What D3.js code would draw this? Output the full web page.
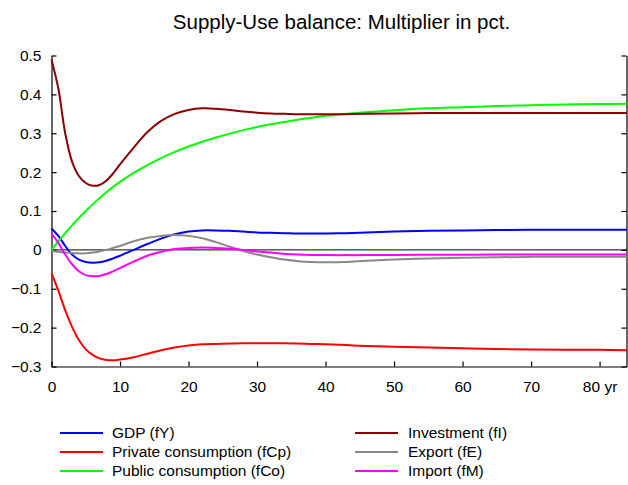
<!DOCTYPE html>
<html>
<head>
<meta charset="utf-8">
<script src="https://cdn.jsdelivr.net/npm/d3@7"></script>
<style>
  html, body { margin: 0; padding: 0; background: #fff; }
  svg { display: block; }
  text { font-family: "Liberation Sans", Arial, Helvetica, sans-serif; fill: #000; }
</style>
</head>
<body>
<svg id="chart" width="628" height="485"></svg>
<script>
const years = [0,1,2,3,4,5,6,7,8,9,10,12,14,16,18,20,22,24,26,28,30,32,34,36,38,40,43,46,50,55,60,65,70,75,80,84];

const gdp = [0.055,0.036,0.010,-0.012,-0.025,-0.031,-0.033,-0.032,-0.028,-0.022,-0.015,0.000,0.015,0.029,0.040,0.047,0.050,0.050,0.049,0.047,0.045,0.044,0.043,0.042,0.042,0.042,0.043,0.045,0.047,0.049,0.050,0.051,0.052,0.052,0.052,0.052];
const privCons = [-0.060,-0.105,-0.155,-0.198,-0.232,-0.256,-0.270,-0.279,-0.283,-0.284,-0.282,-0.276,-0.267,-0.258,-0.251,-0.246,-0.243,-0.242,-0.241,-0.240,-0.240,-0.240,-0.240,-0.241,-0.242,-0.243,-0.245,-0.247,-0.249,-0.251,-0.253,-0.255,-0.256,-0.257,-0.257,-0.258];
const pubCons = [0.000,0.022,0.043,0.063,0.082,0.100,0.117,0.133,0.148,0.162,0.175,0.198,0.218,0.236,0.252,0.266,0.278,0.289,0.299,0.308,0.316,0.323,0.329,0.335,0.340,0.345,0.350,0.354,0.359,0.364,0.367,0.370,0.372,0.374,0.375,0.376];
const investment = [0.490,0.415,0.300,0.227,0.190,0.172,0.165,0.167,0.178,0.197,0.220,0.263,0.303,0.332,0.350,0.360,0.364,0.363,0.360,0.356,0.353,0.351,0.350,0.349,0.349,0.349,0.349,0.350,0.351,0.352,0.352,0.352,0.352,0.352,0.352,0.352];
const exportS = [-0.002,-0.005,-0.007,-0.008,-0.009,-0.009,-0.007,-0.004,0.000,0.005,0.010,0.022,0.031,0.036,0.038,0.036,0.030,0.020,0.008,-0.003,-0.012,-0.019,-0.025,-0.029,-0.031,-0.032,-0.031,-0.028,-0.025,-0.022,-0.020,-0.019,-0.018,-0.018,-0.018,-0.018];
const importS = [0.042,0.018,-0.012,-0.037,-0.055,-0.065,-0.068,-0.067,-0.062,-0.055,-0.047,-0.030,-0.015,-0.005,0.002,0.005,0.006,0.005,0.003,0.000,-0.004,-0.007,-0.010,-0.012,-0.013,-0.0135,-0.0135,-0.0135,-0.013,-0.0125,-0.0125,-0.012,-0.012,-0.012,-0.012,-0.012];

const seriesNames = ["GDP (fY)","Private consumption (fCp)","Public consumption (fCo)","Investment (fI)","Export (fE)","Import (fM)"];
const seriesValues = [gdp, privCons, pubCons, investment, exportS, importS];
const seriesColors = ["#0000ff","#ff0000","#00ff00","#8b0000","#888888","#ff00ff"];

const xTicks = [0,10,20,30,40,50,60,70,80];
const yTicks = [-0.3,-0.2,-0.1,0,0.1,0.2,0.3,0.4,0.5];
const titleText = "Supply-Use balance: Multiplier in pct.";

const svg = d3.select("#chart");
const x = d3.scaleLinear().domain([0, 84]).range([51.5, 627]);
const y = d3.scaleLinear().domain([-0.3, 0.5]).range([366.5, 55.5]);

// title
svg.append("text").attr("x", 341.5).attr("y", 29).attr("text-anchor", "middle")
  .style("font-size", "20.5px").text(titleText);

// zero line
svg.append("line").attr("x1", x(0)).attr("x2", x(84)).attr("y1", y(0)).attr("y2", y(0))
  .attr("stroke", "#000").attr("stroke-width", 1);

// axes
const yAxis = d3.axisLeft(y).tickValues(yTicks).tickSizeInner(-5).tickSizeOuter(0).tickPadding(10)
  .tickFormat(d => d === 0 ? "0" : d3.format(".1f")(d));
const gy = svg.append("g").attr("transform", `translate(${x(0)},0)`).call(yAxis);

const xAxis = d3.axisBottom(x).tickValues(xTicks).tickSizeInner(-5).tickSizeOuter(0).tickPadding(14)
  .tickFormat(d => d === 80 ? "80 yr" : String(d));
const gx = svg.append("g").attr("transform", `translate(0,${y(-0.3)})`).call(xAxis);

const rAxis = d3.axisLeft(y).tickValues(yTicks).tickSizeInner(5).tickSizeOuter(0).tickFormat("");
const gr = svg.append("g").attr("transform", `translate(${x(84) - 0.5},0)`).call(rAxis);

[gy, gx, gr].forEach(g => {
  g.selectAll("text").style("font-size", "15.5px").attr("fill", "#000")
    .style("font-family", '"Liberation Sans", Arial, sans-serif');
  g.selectAll("path, line").attr("stroke", "#000").attr("stroke-width", 1.2);
});

// lines
const line = d3.line().x((d, i) => x(years[i])).y(d => y(d)).curve(d3.curveCatmullRom.alpha(0.5));
seriesValues.forEach((vals, k) => {
  svg.append("path").datum(vals).attr("d", line).attr("fill", "none")
    .attr("stroke", seriesColors[k]).attr("stroke-width", 2);
});

// legend
const legRows = [433, 452, 471];
const legCols = [{lx1: 60, lx2: 103, tx: 112}, {lx1: 355, lx2: 398, tx: 408}];
seriesNames.forEach((name, k) => {
  const c = legCols[Math.floor(k / 3)];
  const ry = legRows[k % 3];
  svg.append("line").attr("x1", c.lx1).attr("x2", c.lx2).attr("y1", ry).attr("y2", ry)
    .attr("stroke", seriesColors[k]).attr("stroke-width", 2);
  svg.append("text").attr("x", c.tx).attr("y", ry).attr("dy", "0.35em")
    .style("font-size", "15.5px").text(name);
});
</script>
</body>
</html>
